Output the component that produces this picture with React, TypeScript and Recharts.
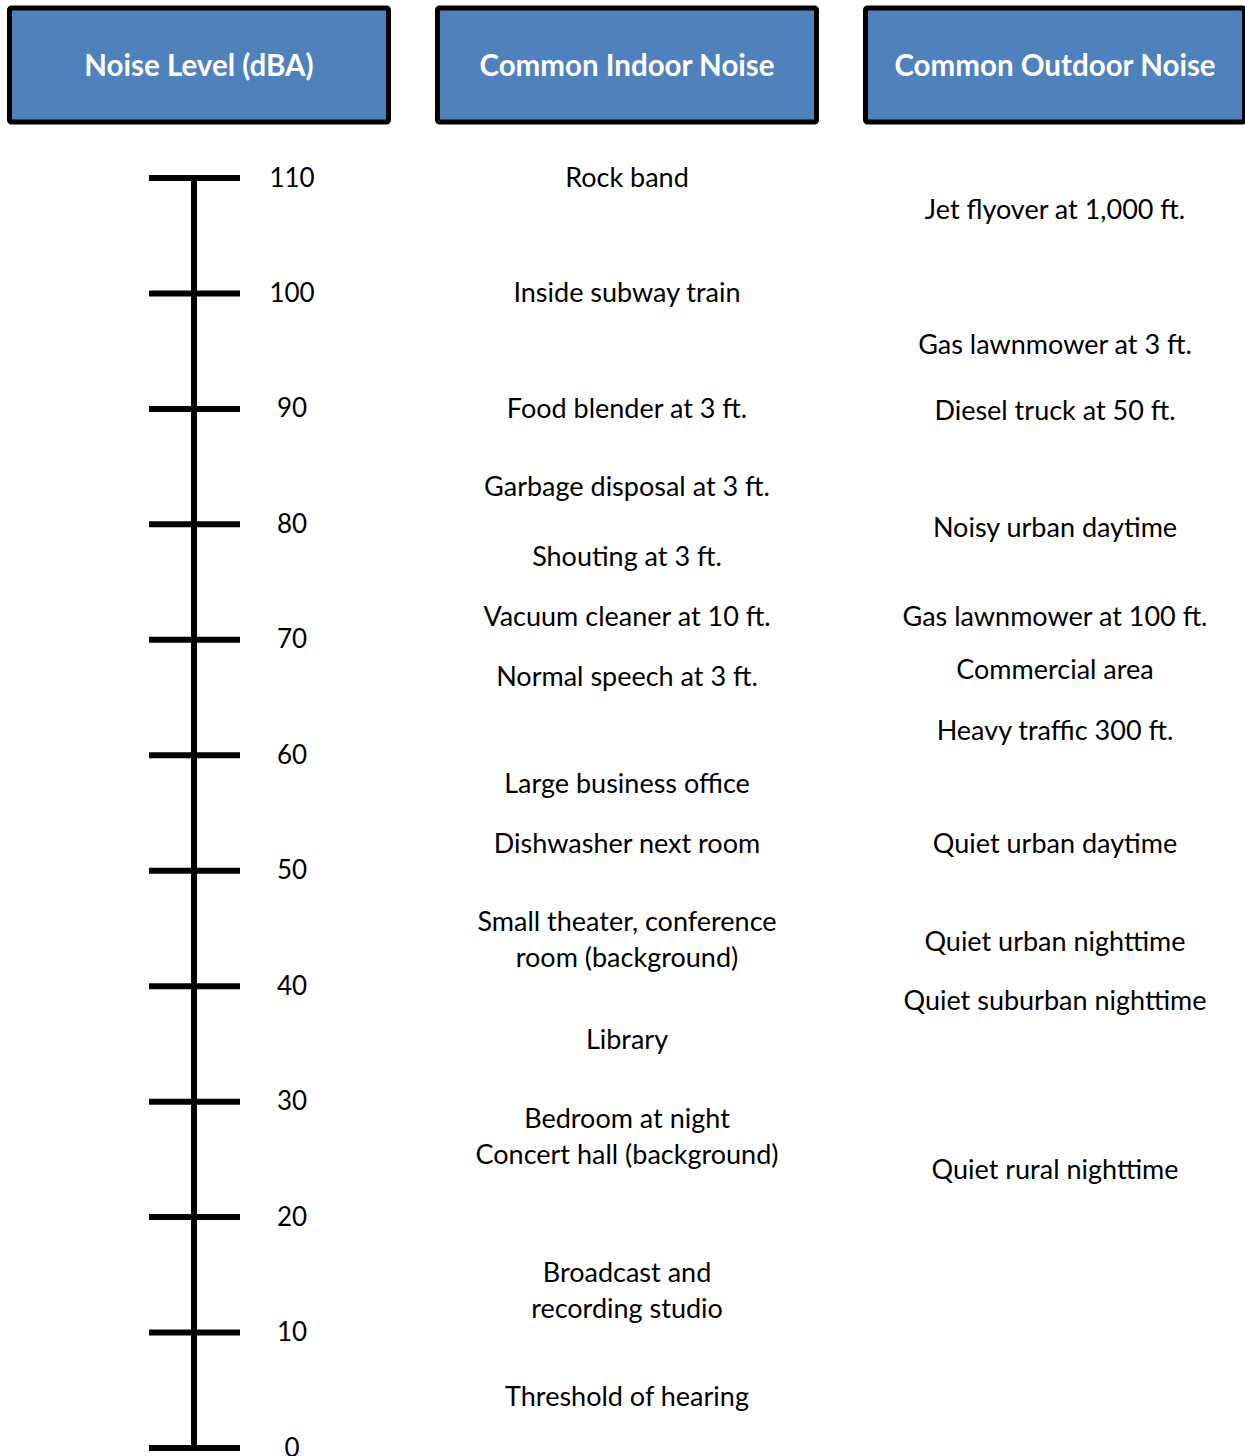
import React from "react";
import { ScatterChart, Scatter, XAxis, YAxis } from "recharts";

// ---- data ----
const scaleLevels = [0, 10, 20, 30, 40, 50, 60, 70, 80, 90, 100, 110];
const headerTitles = ["Noise Level (dBA)", "Common Indoor Noise", "Common Outdoor Noise"];
const headerColumns = [0, 1, 2];

const indoorLabels = [
  "Rock band",
  "Inside subway train",
  "Food blender at 3 ft.",
  "Garbage disposal at 3 ft.",
  "Shouting at 3 ft.",
  "Vacuum cleaner at 10 ft.",
  "Normal speech at 3 ft.",
  "Large business office",
  "Dishwasher next room",
  "Small theater, conference\nroom (background)",
  "Library",
  "Bedroom at night\nConcert hall (background)",
  "Broadcast and\nrecording studio",
  "Threshold of hearing",
];
const indoorLevels = [110, 100, 90, 83.2, 77.2, 72.0, 66.8, 57.5, 52.3, 44.0, 35.3, 26.9, 13.6, 4.4];

const outdoorLabels = [
  "Jet flyover at 1,000 ft.",
  "Gas lawnmower at 3 ft.",
  "Diesel truck at 50 ft.",
  "Noisy urban daytime",
  "Gas lawnmower at 100 ft.",
  "Commercial area",
  "Heavy traffic 300 ft.",
  "Quiet urban daytime",
  "Quiet urban nighttime",
  "Quiet suburban nighttime",
  "Quiet rural nighttime",
];
const outdoorLevels = [107.2, 95.5, 89.8, 79.7, 72.0, 67.4, 62.1, 52.3, 43.8, 38.7, 24.1];

const indoorData = indoorLabels.map((label, i) => ({ col: 1, db: indoorLevels[i], label }));
const outdoorData = outdoorLabels.map((label, i) => ({ col: 2, db: outdoorLevels[i], label }));

const FONT = "Lato, 'Open Sans', sans-serif";
const BLUE = "#4F81BD";

const HeaderTick = (props: any) => {
  const { x, y, payload } = props;
  const idx = headerColumns.indexOf(payload.value);
  const title = headerTitles[idx] ?? "";
  return (
    <g>
      <rect x={x - 189.5} y={y - 170} width={379} height={114} fill={BLUE} stroke="#000" strokeWidth={5} rx={2} />
      <text
        x={x}
        y={y - 114}
        textAnchor="middle"
        dominantBaseline="central"
        fill="#fff"
        fontWeight={700}
        fontSize={29.5}
        fontFamily={FONT}
      >
        {title}
      </text>
    </g>
  );
};

const ScaleTick = (props: any) => {
  const { x, y, payload } = props;
  return (
    <g>
      <line x1={x - 45} x2={x + 46} y1={y} y2={y} stroke="#000" strokeWidth={6} />
      <text x={x + 98} y={y - 1.5} textAnchor="middle" dominantBaseline="central" fill="#000" fontSize={26} fontFamily={FONT}>
        {payload.value}
      </text>
    </g>
  );
};

const LabelShape = (props: any) => {
  const { cx, cy, payload } = props;
  const lines = String(payload.label).split("\n");
  const lh = 36;
  return (
    <text textAnchor="middle" fill="#000" fontSize={27} fontFamily={FONT}>
      {lines.map((ln, i) => (
        <tspan key={i} x={cx} y={cy - 1.5 + (i - (lines.length - 1) / 2) * lh} dominantBaseline="central">
          {ln}
        </tspan>
      ))}
    </text>
  );
};

export default function App() {
  return (
    <div style={{ position: "absolute", left: 0, top: 0, width: 1245, height: 1456, overflow: "hidden", background: "#fff" }}>
      <ScatterChart width={1245} height={1456} margin={{ top: 8, right: 0, bottom: 8, left: 0 }}>
        <XAxis
          type="number"
          dataKey="col"
          orientation="top"
          domain={[-0.0117, 2.4439]}
          allowDataOverflow
          ticks={headerColumns}
          interval={0}
          height={170}
          tickSize={0}
          tickMargin={0}
          axisLine={false}
          tickLine={false}
          tick={<HeaderTick />}
        />
        <YAxis
          type="number"
          dataKey="db"
          domain={[0, 110]}
          ticks={scaleLevels}
          interval={0}
          width={194}
          tickSize={0}
          tickMargin={0}
          tickLine={false}
          axisLine={{ stroke: "#000", strokeWidth: 6 }}
          tick={<ScaleTick />}
        />
        <Scatter data={indoorData} isAnimationActive={false} shape={(p: any) => <LabelShape {...p} />} />
        <Scatter data={outdoorData} isAnimationActive={false} shape={(p: any) => <LabelShape {...p} />} />
      </ScatterChart>
    </div>
  );
}
